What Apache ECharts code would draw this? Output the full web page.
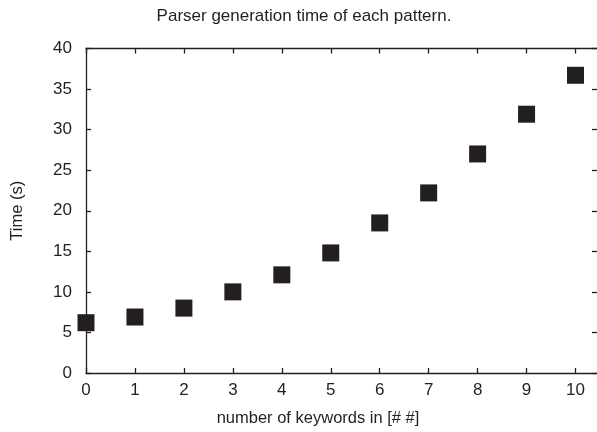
<!DOCTYPE html>
<html><head><meta charset="utf-8">
<script src="https://cdn.jsdelivr.net/npm/echarts@6/dist/echarts.min.js"></script>
<style>html,body{margin:0;padding:0;background:#fff}#c{width:597px;height:432px}</style>
</head><body><div id="c"></div>
<script>
const keywords = [0, 1, 2, 3, 4, 5, 6, 7, 8, 9, 10];
const timeSec = [6.2, 6.9, 8.0, 10.0, 12.1, 14.8, 18.5, 22.2, 27.0, 31.9, 36.7];
const titleText = 'Parser generation time of each pattern.';
const xName = 'number of keywords in [# #]';
const yName = 'Time (s)';

const ink = '#231f20';
const font = 'Liberation Sans, Arial, Helvetica, sans-serif';
const chart = echarts.init(document.getElementById('c'));
const lineStyle = { color: ink, width: 1.3 };
const intFmt = v => (Number.isInteger(v) ? String(v) : '');
const xMax = 10.5;
chart.setOption({
  backgroundColor: '#fff',
  animation: false,
  title: { text: titleText, left: 299, textAlign: 'center', top: 3,
    textStyle: { fontFamily: font, fontSize: 17, fontWeight: 'normal', color: ink } },
  grid: { left: 86, top: 48.5, width: 514, height: 324.5, containLabel: false, outerBoundsMode: 'none' },
  xAxis: [
    { type: 'value', min: 0, max: xMax, interval: 1, position: 'bottom',
      name: xName, nameLocation: 'middle', nameGap: 37,
      nameTextStyle: { fontFamily: font, fontSize: 16.5, color: ink, padding: [0, 50, 0, 0] },
      axisLine: { show: true, onZero: false, lineStyle }, axisTick: { inside: true, length: 5, lineStyle },
      axisLabel: { fontFamily: font, fontSize: 17, color: ink, margin: 9, formatter: intFmt },
      splitLine: { show: false } },
    { type: 'value', min: 0, max: xMax, interval: 1, position: 'top',
      axisLine: { show: true, onZero: false, lineStyle }, axisTick: { inside: true, length: 5, lineStyle },
      axisLabel: { show: false }, splitLine: { show: false } }
  ],
  yAxis: [
    { type: 'value', min: 0, max: 40, interval: 5, position: 'left',
      name: yName, nameLocation: 'middle', nameGap: 60, nameRotate: 90,
      nameTextStyle: { fontFamily: font, fontSize: 16.5, color: ink },
      axisLine: { show: true, onZero: false, lineStyle }, axisTick: { inside: true, length: 5, lineStyle },
      axisLabel: { fontFamily: font, fontSize: 17, color: ink, margin: 14 },
      splitLine: { show: false } },
    { type: 'value', min: 0, max: 40, interval: 5, position: 'right',
      axisLine: { show: true, onZero: false, lineStyle }, axisTick: { inside: true, length: 8, lineStyle },
      axisLabel: { show: false }, splitLine: { show: false } }
  ],
  series: [{
    type: 'scatter', xAxisIndex: 0, yAxisIndex: 0,
    symbol: 'rect', symbolSize: 17,
    itemStyle: { color: ink, opacity: 1 },
    data: keywords.map((k, i) => [k, timeSec[i]])
  }]
});
</script></body></html>
